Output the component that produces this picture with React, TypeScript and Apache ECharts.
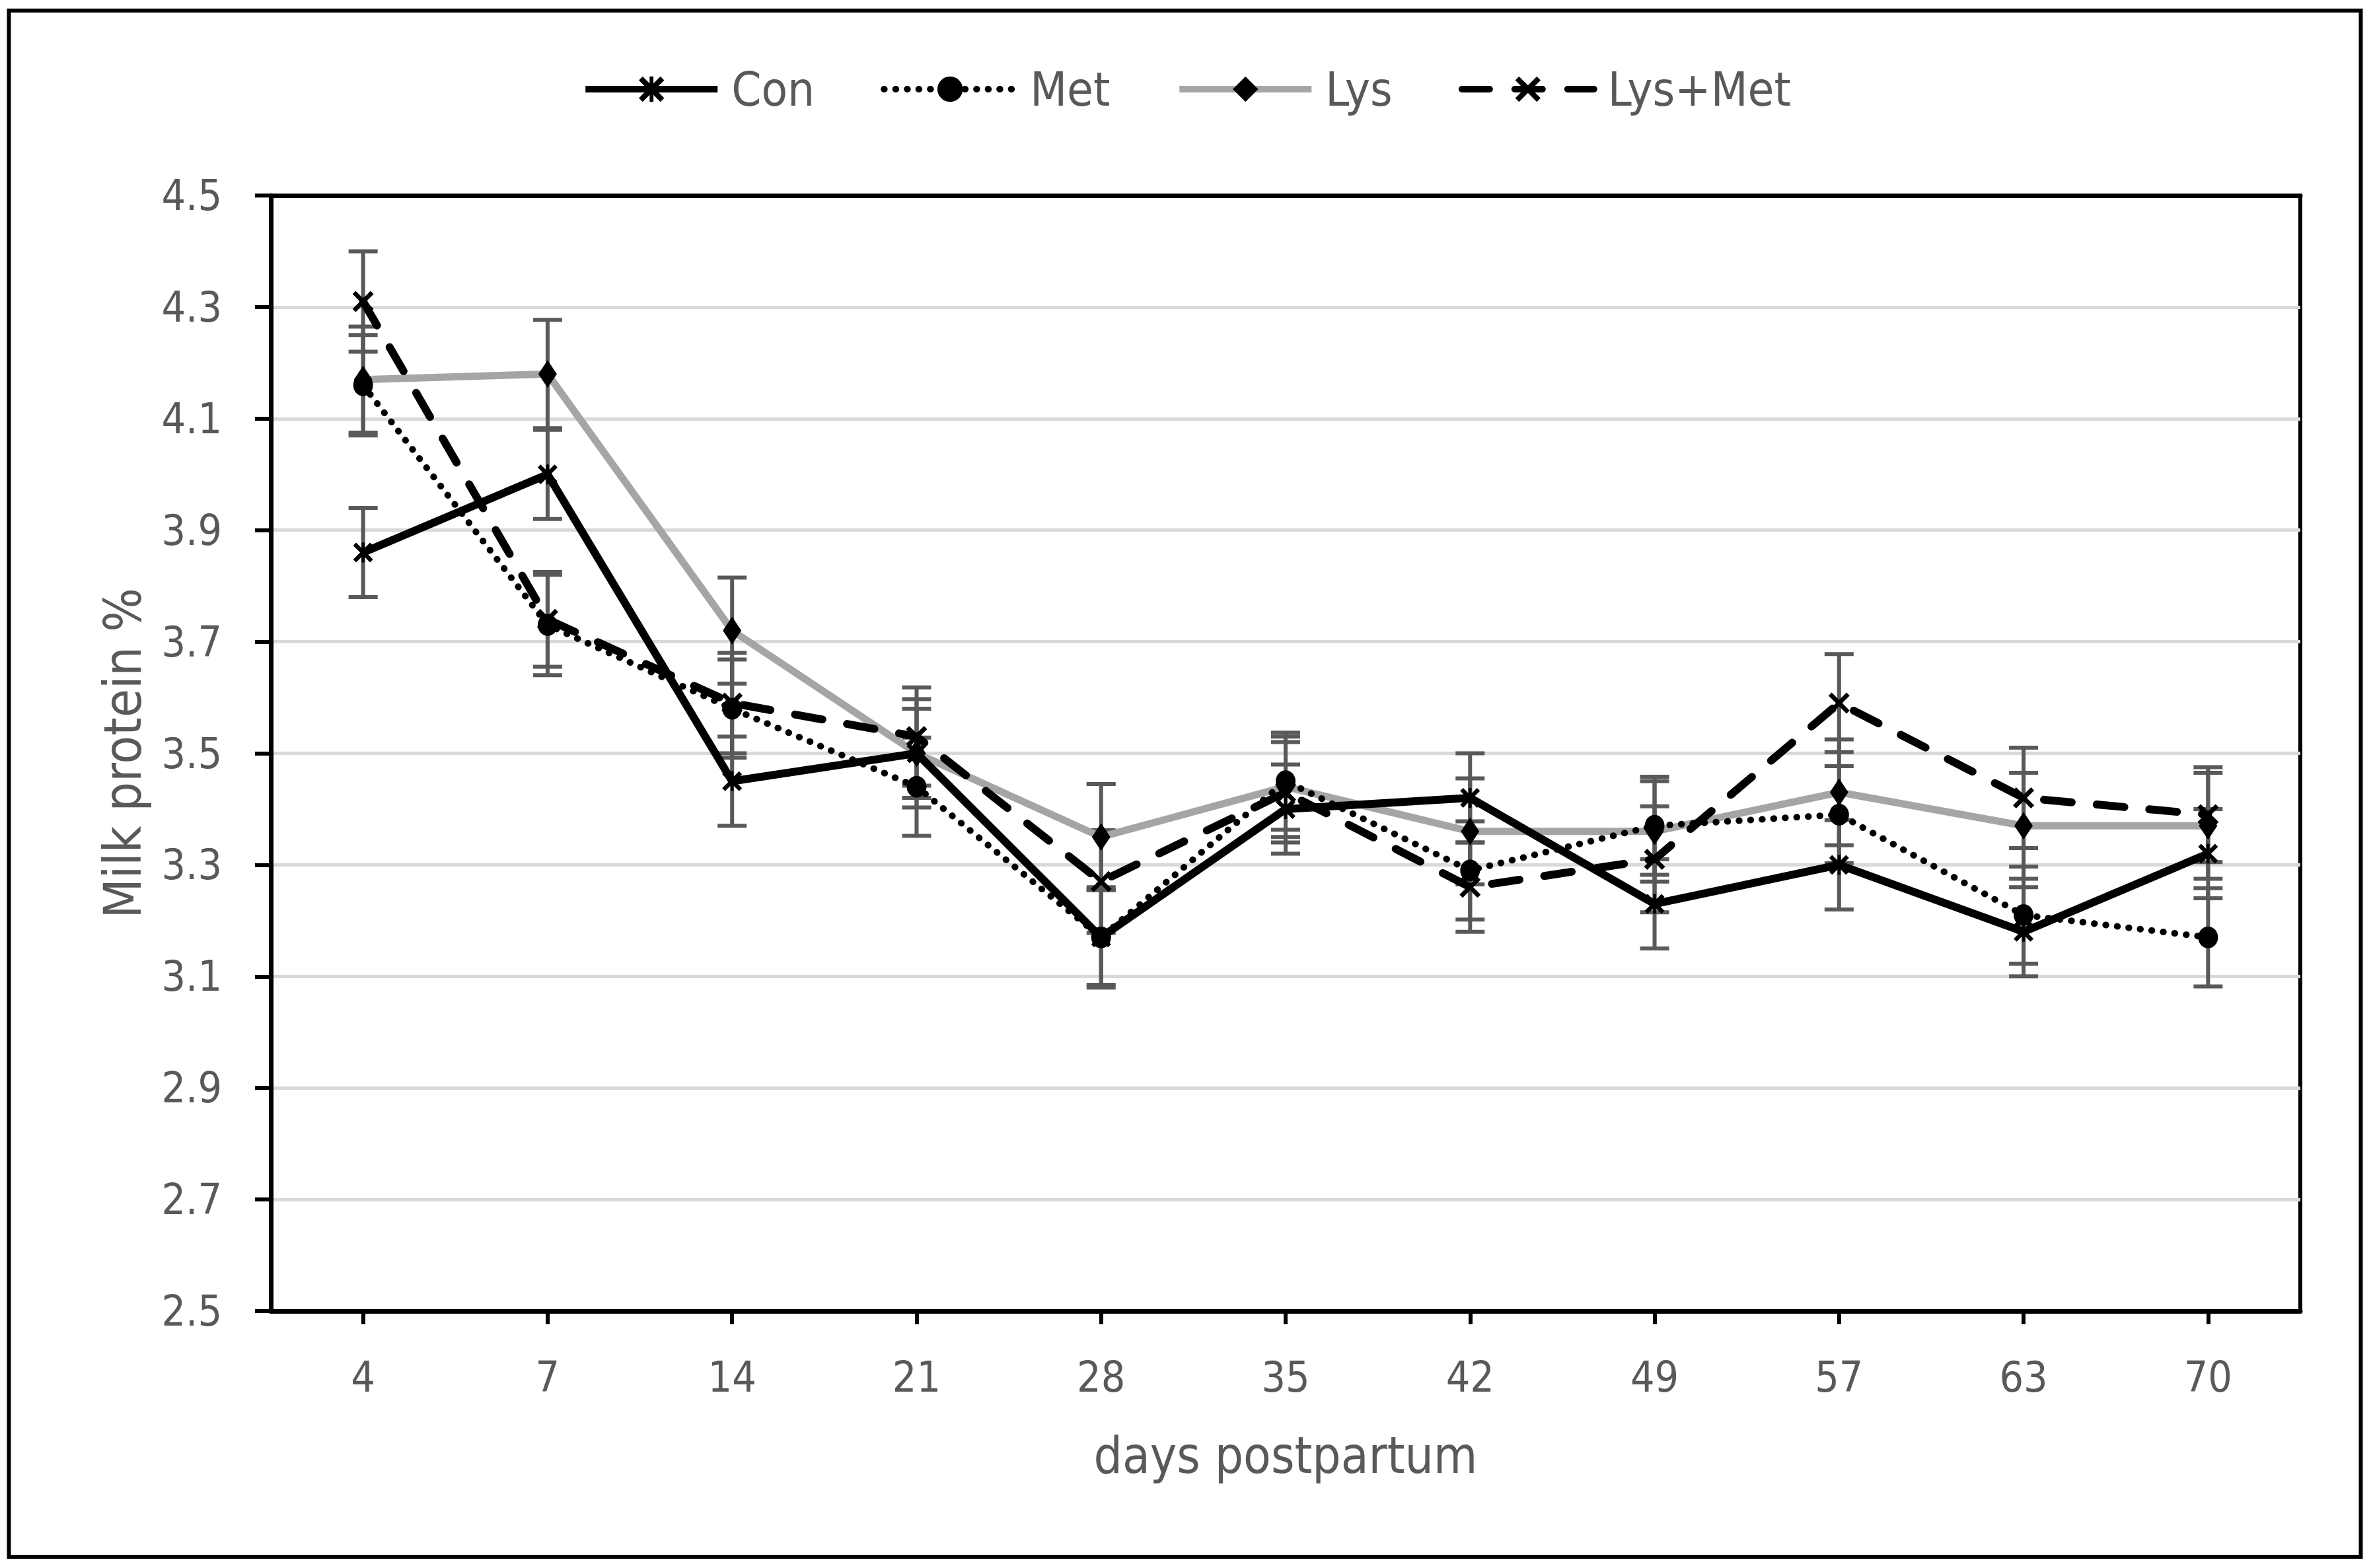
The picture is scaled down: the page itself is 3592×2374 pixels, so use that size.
import React, { useEffect, useRef } from "react";
import * as echarts from "echarts";

const days = ["4", "7", "14", "21", "28", "35", "42", "49", "57", "63", "70"];
const conValues = [3.86, 4.0, 3.45, 3.5, 3.17, 3.4, 3.42, 3.23, 3.3, 3.18, 3.32];
const metValues = [4.16, 3.73, 3.58, 3.44, 3.17, 3.45, 3.29, 3.37, 3.39, 3.21, 3.17];
const lysValues = [4.17, 4.18, 3.72, 3.5, 3.35, 3.44, 3.36, 3.36, 3.43, 3.37, 3.37];
const lysMetValues = [4.31, 3.74, 3.59, 3.53, 3.27, 3.43, 3.26, 3.31, 3.59, 3.42, 3.39];
const conSE = [0.08, 0.08, 0.08, 0.08, 0.085, 0.08, 0.08, 0.08, 0.08, 0.08, 0.08];
const metSE = [0.09, 0.09, 0.088, 0.088, 0.09, 0.087, 0.088, 0.088, 0.087, 0.087, 0.088];
const lysSE = [0.095, 0.097, 0.095, 0.097, 0.095, 0.09, 0.095, 0.09, 0.095, 0.095, 0.095];
const lysMetSE = [0.09, 0.085, 0.09, 0.088, 0.092, 0.09, 0.08, 0.095, 0.088, 0.09, 0.085];
const yMin = 2.5;
const yMax = 4.5;
const yStep = 0.2;

const FONT = "'Liberation Sans Narrow', 'DejaVu Sans Condensed', sans-serif";
const TXT = "#595959";

const X_PATH =
  "path://M0,3 L3,0 L10,7 L17,0 L20,3 L13,10 L20,17 L17,20 L10,13 L3,20 L0,17 L7,10 Z";
const STAR_PATH =
  "path://M0,3 L3,0 L10,7 L17,0 L20,3 L13,10 L20,17 L17,20 L10,13 L3,20 L0,17 L7,10 Z M8.5,0 L11.5,0 L11.5,20 L8.5,20 Z";

export default function App() {
  const ref = useRef<HTMLDivElement>(null);
  useEffect(() => {
    if (!ref.current) return;
    const chart = echarts.init(ref.current, undefined, { renderer: "svg" });
    const off = (v: number) => +(v - yMin).toFixed(4);

    const errSeries = (name: string, vals: number[], se: number[]) => ({
      type: "custom",
      name: name + " err",
      z: 1,
      silent: true,
      renderItem: (params: any, api: any) => {
        const x = api.value(0);
        const lo = api.coord([x, api.value(1)]);
        const hi = api.coord([x, api.value(2)]);
        const hw = 22;
        const style = { stroke: "#595959", lineWidth: 6 };
        return {
          type: "group",
          children: [
            { type: "line", shape: { x1: lo[0], y1: lo[1], x2: hi[0], y2: hi[1] }, style },
            { type: "line", shape: { x1: lo[0] - hw, y1: lo[1], x2: lo[0] + hw, y2: lo[1] }, style },
            { type: "line", shape: { x1: hi[0] - hw, y1: hi[1], x2: hi[0] + hw, y2: hi[1] }, style },
          ],
        };
      },
      encode: { x: 0, y: [1, 2] },
      data: vals.map((v, i) => [i, off(v - se[i]), off(v + se[i])]),
    });

    const option: any = {
      animation: false,
      backgroundColor: "#fff",
      textStyle: { fontFamily: FONT },
      graphic: [
        {
          type: "rect",
          shape: { x: 13.5, y: 16, width: 3560, height: 2341 },
          style: { fill: "none", stroke: "#000", lineWidth: 6 },
          silent: true,
        },
      ],
      legend: {
        top: 94,
        left: "center",
        itemWidth: 200,
        itemHeight: 48,
        itemGap: 100,
        data: ["Con", "Met", "Lys", "Lys+Met"],
        lineStyle: { width: 10 },
        textStyle: { fontFamily: FONT, fontSize: 72, color: TXT, padding: [0, 0, 0, 16] },
      },
      grid: {
        left: 410,
        right: 110,
        top: 296,
        bottom: 389,
        show: true,
        borderColor: "#000",
        borderWidth: 6,
        containLabel: false,
      },
      xAxis: [
        {
          type: "category",
          data: days,
          boundaryGap: true,
          name: "days postpartum",
          nameLocation: "middle",
          nameGap: 180,
          nameTextStyle: { fontFamily: FONT, fontSize: 76, color: TXT },
          axisLine: { show: true, lineStyle: { color: "#000", width: 7 } },
          axisTick: { show: true, alignWithLabel: true, length: 20, lineStyle: { color: "#000", width: 6 } },
          axisLabel: { fontFamily: FONT, fontSize: 64, color: TXT, margin: 68 },
          splitLine: { show: false },
        },
        {
          type: "category",
          data: days,
          position: "top",
          boundaryGap: true,
          axisLine: { show: true, lineStyle: { color: "#000", width: 7 } },
          axisTick: { show: false },
          axisLabel: { show: false },
          splitLine: { show: false },
        },
      ],
      yAxis: {
        type: "value",
        min: 0,
        max: off(yMax),
        interval: yStep,
        name: "Milk protein %",
        nameLocation: "middle",
        nameRotate: 90,
        nameGap: 185,
        nameTextStyle: { fontFamily: FONT, fontSize: 78, color: TXT },
        axisLine: { show: true, lineStyle: { color: "#000", width: 7 } },
        axisTick: { show: true, length: 24, lineStyle: { color: "#000", width: 6 } },
        axisLabel: {
          fontFamily: FONT,
          fontSize: 64,
          color: TXT,
          margin: 74,
          formatter: (v: number) => (v + yMin).toFixed(1),
        },
        splitLine: { show: true, lineStyle: { color: "#D9D9D9", width: 5 } },
      },
      series: [
        errSeries("Con", conValues, conSE),
        errSeries("Met", metValues, metSE),
        errSeries("Lys", lysValues, lysSE),
        errSeries("Lys+Met", lysMetValues, lysMetSE),
        {
          name: "Lys",
          type: "line",
          z: 3,
          data: lysValues.map(off),
          symbol: "diamond",
          symbolSize: [28, 42],
          itemStyle: { color: "#000" },
          lineStyle: { color: "#A5A5A5", width: 11, type: "solid" },
        },
        {
          name: "Met",
          type: "line",
          z: 4,
          data: metValues.map(off),
          symbol: "circle",
          symbolSize: [30, 33],
          itemStyle: { color: "#000" },
          lineStyle: { color: "#000", width: 10, type: [0.5, 17], cap: "round" },
        },
        {
          name: "Lys+Met",
          type: "line",
          z: 5,
          data: lysMetValues.map(off),
          symbol: X_PATH,
          symbolSize: 32,
          itemStyle: { color: "#000" },
          lineStyle: { color: "#000", width: 12, type: [42, 38], cap: "round" },
        },
        {
          name: "Con",
          type: "line",
          z: 6,
          data: conValues.map(off),
          symbol: STAR_PATH,
          symbolSize: 30,
          itemStyle: { color: "#000" },
          lineStyle: { color: "#000", width: 12, type: "solid" },
        },
      ],
    };
    chart.setOption(option);
    return () => chart.dispose();
  }, []);
  return (
    <div
      ref={ref}
      style={{ position: "fixed", left: 0, top: 0, width: 3592, height: 2374, background: "#fff" }}
    />
  );
}
